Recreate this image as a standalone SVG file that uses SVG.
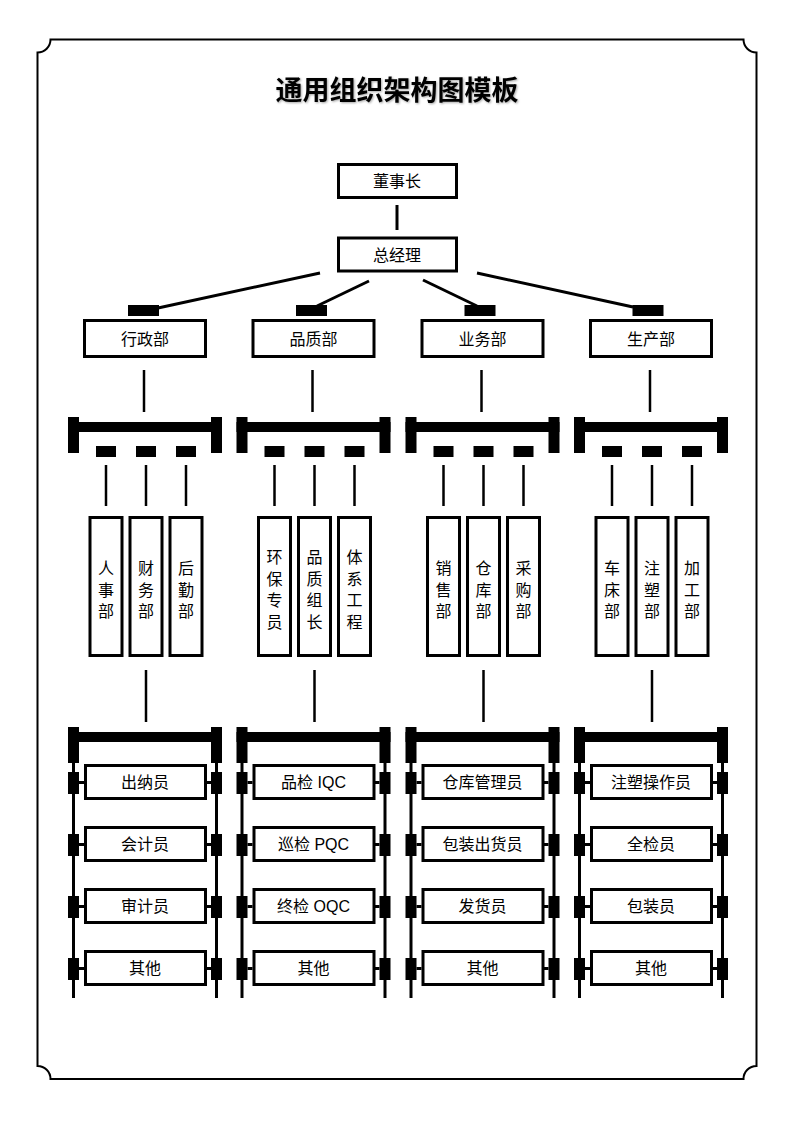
<svg xmlns="http://www.w3.org/2000/svg" xmlns:xlink="http://www.w3.org/1999/xlink" width="793" height="1122" viewBox="0 0 793 1122">
<style>
.box{fill:#fff;stroke:#000;stroke-width:3}
.blk{fill:#000}
.ln{stroke:#000;stroke-width:3;fill:none}
.ln2{stroke:#000;stroke-width:2.5;fill:none}
.t{font-family:"Liberation Sans","Noto Sans CJK SC",sans-serif;font-size:16px;text-anchor:middle;fill:#000}
.title{font-family:"Liberation Sans","Noto Sans CJK SC",sans-serif;font-size:27px;font-weight:bold;text-anchor:middle;fill:#000}
</style>
<defs>
<filter id="sh" x="-10%" y="-30%" width="120%" height="160%">
<feDropShadow dx="1" dy="1" stdDeviation="1" flood-color="#000" flood-opacity="0.35"/>
</filter>
<g id="skel">
<line class="ln2" x1="-1" y1="370" x2="-1" y2="412"/>
<rect class="blk" x="-77" y="422" width="154" height="10"/>
<rect class="blk" x="-77" y="417" width="11" height="36"/>
<rect class="blk" x="66" y="417" width="11" height="36"/>
<rect class="blk" x="-49" y="446" width="20" height="11"/>
<rect class="blk" x="-9" y="446" width="20" height="11"/>
<rect class="blk" x="31" y="446" width="20" height="11"/>
<line class="ln2" x1="-39" y1="465" x2="-39" y2="506"/>
<line class="ln2" x1="1" y1="465" x2="1" y2="506"/>
<line class="ln2" x1="41" y1="465" x2="41" y2="506"/>
<line class="ln2" x1="1" y1="670" x2="1" y2="722"/>
<rect class="blk" x="-77" y="732" width="154" height="10"/>
<rect class="blk" x="-77" y="727" width="11" height="36"/>
<rect class="blk" x="66" y="727" width="11" height="36"/>
<line class="ln" x1="-71.5" y1="763" x2="-71.5" y2="998"/>
<line class="ln" x1="71.5" y1="763" x2="71.5" y2="998"/>
<rect class="blk" x="-77" y="772" width="11" height="22"/>
<rect class="blk" x="66" y="772" width="11" height="22"/>
<rect class="blk" x="-77" y="834" width="11" height="22"/>
<rect class="blk" x="66" y="834" width="11" height="22"/>
<rect class="blk" x="-77" y="896" width="11" height="22"/>
<rect class="blk" x="66" y="896" width="11" height="22"/>
<rect class="blk" x="-77" y="958" width="11" height="22"/>
<rect class="blk" x="66" y="958" width="11" height="22"/>
<path class="ln" d="M-66 782.5H-61M66 782.5H61M-66 844.5H-61M66 844.5H61M-66 906.5H-61M66 906.5H61M-66 968.5H-61M66 968.5H61"/>
</g>
</defs>
<rect x="0" y="0" width="793" height="1122" fill="#fff"/>
<path d="M50.5 39.5H743.5A13 13 0 0 0 756.5 52.5V1066A13 13 0 0 0 743.5 1079H50.5A13 13 0 0 0 37.5 1066V52.5A13 13 0 0 0 50.5 39.5Z" fill="none" stroke="#000" stroke-width="2"/>
<text class="title" x="397" y="99.5" filter="url(#sh)">通用组织架构图模板</text>

<g id="connectors">
<line class="ln" x1="397" y1="205" x2="397" y2="230"/>
<line class="ln" x1="320" y1="273" x2="158" y2="308"/>
<line class="ln" x1="369" y1="281" x2="317" y2="306"/>
<line class="ln" x1="423" y1="280" x2="477" y2="306"/>
<line class="ln" x1="477" y1="273" x2="633" y2="307"/>
<rect class="blk" x="128" y="305" width="31" height="11"/>
<rect class="blk" x="296" y="305" width="31" height="11"/>
<rect class="blk" x="464.5" y="305" width="31" height="11"/>
<rect class="blk" x="632.5" y="305" width="31" height="11"/>
<use xlink:href="#skel" transform="translate(145,0)"/>
<use xlink:href="#skel" transform="translate(313.5,0)"/>
<use xlink:href="#skel" transform="translate(482.5,0)"/>
<use xlink:href="#skel" transform="translate(651,0)"/>
</g>

<g id="n-chairman"><rect class="box" x="338.5" y="164.5" width="118" height="33"/><text class="t" x="397" y="187">董事长</text></g>
<g id="n-gm"><rect class="box" x="338.5" y="238" width="118" height="33"/><text class="t" x="397" y="260.5">总经理</text></g>

<g id="n-admin"><rect class="box" x="84.5" y="320.5" width="121" height="36"/><text class="t" x="145" y="344.5">行政部</text></g>
<g id="n-quality"><rect class="box" x="253" y="320.5" width="121" height="36"/><text class="t" x="313.5" y="344.5">品质部</text></g>
<g id="n-business"><rect class="box" x="422" y="320.5" width="121" height="36"/><text class="t" x="482.5" y="344.5">业务部</text></g>
<g id="n-production"><rect class="box" x="590.5" y="320.5" width="121" height="36"/><text class="t" x="651" y="344.5">生产部</text></g>

<g id="n-hr"><rect class="box" x="90" y="517.5" width="32" height="138"/><text class="t" x="106" y="574">人<tspan x="106" y="595.5">事</tspan><tspan x="106" y="617">部</tspan></text></g>
<g id="n-finance"><rect class="box" x="130" y="517.5" width="32" height="138"/><text class="t" x="146" y="574">财<tspan x="146" y="595.5">务</tspan><tspan x="146" y="617">部</tspan></text></g>
<g id="n-logistics"><rect class="box" x="170" y="517.5" width="32" height="138"/><text class="t" x="186" y="574">后<tspan x="186" y="595.5">勤</tspan><tspan x="186" y="617">部</tspan></text></g>

<g id="n-env"><rect class="box" x="258.5" y="517.5" width="32" height="138"/><text class="t" x="274.5" y="563">环<tspan x="274.5" y="584.5">保</tspan><tspan x="274.5" y="606">专</tspan><tspan x="274.5" y="627.5">员</tspan></text></g>
<g id="n-qlead"><rect class="box" x="298.5" y="517.5" width="32" height="138"/><text class="t" x="314.5" y="563">品<tspan x="314.5" y="584.5">质</tspan><tspan x="314.5" y="606">组</tspan><tspan x="314.5" y="627.5">长</tspan></text></g>
<g id="n-system"><rect class="box" x="338.5" y="517.5" width="32" height="138"/><text class="t" x="354.5" y="563">体<tspan x="354.5" y="584.5">系</tspan><tspan x="354.5" y="606">工</tspan><tspan x="354.5" y="627.5">程</tspan></text></g>

<g id="n-sales"><rect class="box" x="427.5" y="517.5" width="32" height="138"/><text class="t" x="443.5" y="574">销<tspan x="443.5" y="595.5">售</tspan><tspan x="443.5" y="617">部</tspan></text></g>
<g id="n-warehouse"><rect class="box" x="467.5" y="517.5" width="32" height="138"/><text class="t" x="483.5" y="574">仓<tspan x="483.5" y="595.5">库</tspan><tspan x="483.5" y="617">部</tspan></text></g>
<g id="n-purchase"><rect class="box" x="507.5" y="517.5" width="32" height="138"/><text class="t" x="523.5" y="574">采<tspan x="523.5" y="595.5">购</tspan><tspan x="523.5" y="617">部</tspan></text></g>

<g id="n-lathe"><rect class="box" x="596" y="517.5" width="32" height="138"/><text class="t" x="612" y="574">车<tspan x="612" y="595.5">床</tspan><tspan x="612" y="617">部</tspan></text></g>
<g id="n-molding"><rect class="box" x="636" y="517.5" width="32" height="138"/><text class="t" x="652" y="574">注<tspan x="652" y="595.5">塑</tspan><tspan x="652" y="617">部</tspan></text></g>
<g id="n-process"><rect class="box" x="676" y="517.5" width="32" height="138"/><text class="t" x="692" y="574">加<tspan x="692" y="595.5">工</tspan><tspan x="692" y="617">部</tspan></text></g>

<g id="n-a1"><rect class="box" x="85.5" y="765.5" width="120" height="33"/><text class="t" x="145" y="788">出纳员</text></g>
<g id="n-a2"><rect class="box" x="85.5" y="827.5" width="120" height="33"/><text class="t" x="145" y="850">会计员</text></g>
<g id="n-a3"><rect class="box" x="85.5" y="889.5" width="120" height="33"/><text class="t" x="145" y="912">审计员</text></g>
<g id="n-a4"><rect class="box" x="85.5" y="951.5" width="120" height="33"/><text class="t" x="145" y="974">其他</text></g>

<g id="n-b1"><rect class="box" x="254" y="765.5" width="120" height="33"/><text class="t" x="313.5" y="788">品检 IQC</text></g>
<g id="n-b2"><rect class="box" x="254" y="827.5" width="120" height="33"/><text class="t" x="313.5" y="850">巡检 PQC</text></g>
<g id="n-b3"><rect class="box" x="254" y="889.5" width="120" height="33"/><text class="t" x="313.5" y="912">终检 OQC</text></g>
<g id="n-b4"><rect class="box" x="254" y="951.5" width="120" height="33"/><text class="t" x="313.5" y="974">其他</text></g>

<g id="n-c1"><rect class="box" x="423" y="765.5" width="120" height="33"/><text class="t" x="482.5" y="788">仓库管理员</text></g>
<g id="n-c2"><rect class="box" x="423" y="827.5" width="120" height="33"/><text class="t" x="482.5" y="850">包装出货员</text></g>
<g id="n-c3"><rect class="box" x="423" y="889.5" width="120" height="33"/><text class="t" x="482.5" y="912">发货员</text></g>
<g id="n-c4"><rect class="box" x="423" y="951.5" width="120" height="33"/><text class="t" x="482.5" y="974">其他</text></g>

<g id="n-d1"><rect class="box" x="591.5" y="765.5" width="120" height="33"/><text class="t" x="651" y="788">注塑操作员</text></g>
<g id="n-d2"><rect class="box" x="591.5" y="827.5" width="120" height="33"/><text class="t" x="651" y="850">全检员</text></g>
<g id="n-d3"><rect class="box" x="591.5" y="889.5" width="120" height="33"/><text class="t" x="651" y="912">包装员</text></g>
<g id="n-d4"><rect class="box" x="591.5" y="951.5" width="120" height="33"/><text class="t" x="651" y="974">其他</text></g>
</svg>
